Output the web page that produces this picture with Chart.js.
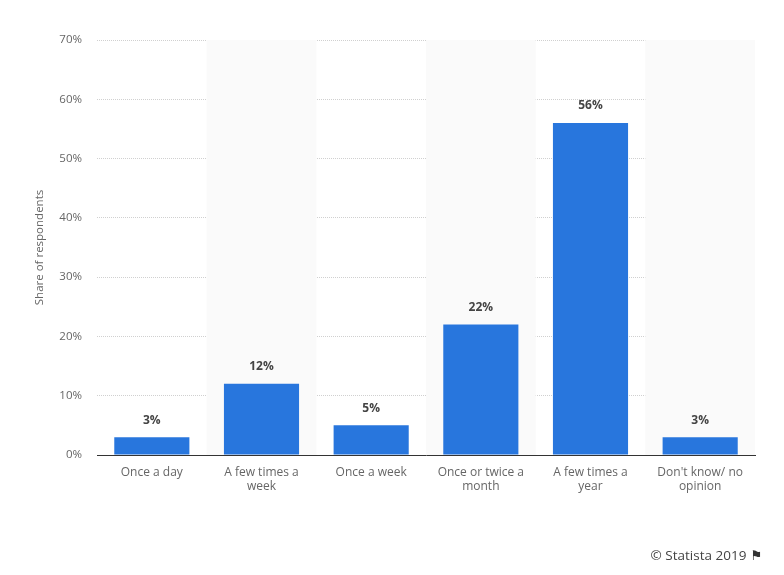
<!DOCTYPE html>
<html>
<head>
<meta charset="utf-8">
<script src="https://cdn.jsdelivr.net/npm/chart.js@4.4.0/dist/chart.umd.min.js"></script>
<style>
html,body{margin:0;padding:0;background:#fff;}
#wrap{position:relative;width:784px;height:575px;}
#credit{position:absolute;right:22px;top:546px;font-family:"Open Sans","DejaVu Sans",sans-serif;font-size:13.5px;color:#444;}
</style>
</head>
<body>
<div id="wrap"><canvas id="c" width="784" height="575"></canvas>
<div id="credit">© Statista 2019 <span style="font-family:'DejaVu Sans';color:#333">⚑</span></div>
</div>
<script>
const categories = [["Once a day"], ["A few times a", "week"], ["Once a week"], ["Once or twice a", "month"], ["A few times a", "year"], ["Don't know/ no", "opinion"]];
const values = [3, 12, 5, 22, 56, 3];
const yTicks = [0, 10, 20, 30, 40, 50, 60, 70];
const yTitle = "Share of respondents";
const FONT = '"Open Sans", "DejaVu Sans", sans-serif';

const bands = {
  id: 'bands',
  beforeDatasetsDraw(chart) {
    const {ctx, chartArea, scales} = chart;
    const x = scales.x;
    const w = (chartArea.right - chartArea.left) / categories.length;
    ctx.save();
    ctx.fillStyle = '#fafafa';
    for (let i = 1; i < categories.length; i += 2) {
      const cx = x.getPixelForValue(i);
      ctx.fillRect(cx - w / 2, chartArea.top, w, chartArea.bottom - chartArea.top);
    }
    ctx.restore();
  }
};

const labelsPlugin = {
  id: 'vals',
  afterDatasetsDraw(chart) {
    const {ctx} = chart;
    const meta = chart.getDatasetMeta(0);
    ctx.save();
    ctx.font = 'bold 12px ' + FONT;
    ctx.fillStyle = '#444';
    ctx.textAlign = 'center';
    ctx.textBaseline = 'middle';
    meta.data.forEach((bar, i) => {
      ctx.fillText(values[i] + '%', bar.x, bar.y - 17);
    });
    ctx.restore();
  }
};

new Chart(document.getElementById('c'), {
  type: 'bar',
  data: {
    labels: categories,
    datasets: [{
      data: values,
      backgroundColor: '#2876dd',
      barPercentage: 0.685,
      categoryPercentage: 1
    }]
  },
  options: {
    responsive: false,
    animation: false,
    layout: {padding: {left: 33, right: 29, top: 40, bottom: 0}},
    plugins: {legend: {display: false}, tooltip: {enabled: false}},
    scales: {
      x: {
        grid: {display: false, drawTicks: false},
        border: {display: true, color: '#333', width: 1},
        ticks: {color: '#666', padding: 10, font: {family: FONT, size: 12}, maxRotation: 0, autoSkip: false},
        afterFit(s) { s.height = 120; }
      },
      y: {
        min: 0, max: 70,
        afterBuildTicks(s) { s.ticks = yTicks.map(v => ({value: v})); },
        grid: {color: '#d0d0d0', drawTicks: false, lineWidth: 1},
        border: {display: false, dash: [1, 1]},
        ticks: {color: '#666', padding: 15, font: {family: FONT, size: 11.5}, callback: v => v + '%'},
        title: {display: true, text: yTitle, color: '#666', font: {family: FONT, size: 11.5}, padding: {top: 0, bottom: 8}},
        afterFit(s) { s.width = 64; }
      }
    }
  },
  plugins: [bands, labelsPlugin]
});
</script>
</body>
</html>
